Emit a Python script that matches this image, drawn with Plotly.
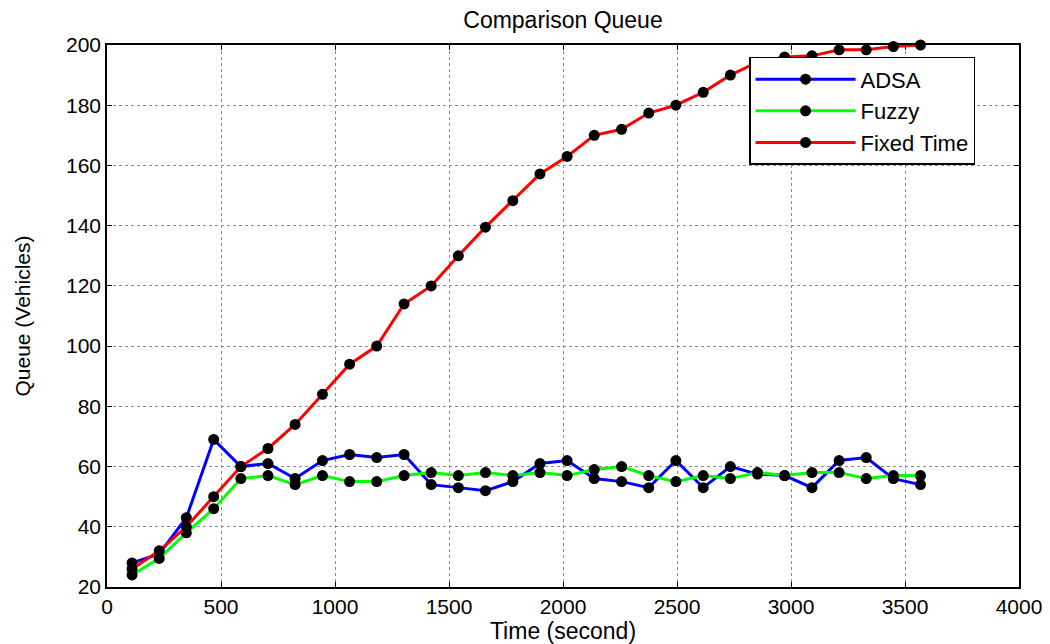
import plotly.graph_objects as go

time_s = [110, 229, 348, 468, 587, 706, 825, 945, 1064, 1183,
          1303, 1422, 1541, 1660, 1780, 1899, 2018, 2137, 2257, 2376,
          2495, 2615, 2734, 2853, 2972, 3092, 3211, 3330, 3449, 3568]

adsa = [28, 31, 43, 69, 60, 61, 56, 62, 64, 63,
        64, 54, 53, 52, 55, 61, 62, 56, 55, 53,
        62, 53, 60, 57.5, 57, 53, 62, 63, 56, 54]

fuzzy = [24, 29.5, 38, 46, 56, 57, 54, 57, 55, 55,
         57, 58, 57, 58, 57, 58, 57, 59, 60, 57,
         55, 57, 56, 58, 57, 58, 58, 56, 57, 57]

fixed_time = [26, 32, 40, 50, 60, 66, 74, 84, 94, 100,
              114, 120, 130, 139.5, 148.3, 157.2, 163, 170, 172, 177.4,
              180, 184.3, 190, 194.3, 196, 196.4, 198.4, 198.4, 199.5, 200]

series = [("ADSA", adsa, "#0000FF"),
          ("Fuzzy", fuzzy, "#00FF00"),
          ("Fixed Time", fixed_time, "#FF0000")]

x_ticks = [0, 500, 1000, 1500, 2000, 2500, 3000, 3500, 4000]
y_ticks = [20, 40, 60, 80, 100, 120, 140, 160, 180, 200]

FONT = "Liberation Sans, Arial, sans-serif"

fig = go.Figure()
for name, vals, color in series:
    fig.add_trace(go.Scatter(
        x=time_s, y=vals, name=name, mode="lines+markers",
        line=dict(color=color, width=3),
        marker=dict(color="black", size=11, symbol="circle"),
        cliponaxis=False,
    ))

axis_common = dict(
    showline=True, linecolor="black", linewidth=1.5, mirror="allticks",
    ticks="inside", ticklen=5, tickcolor="black", tickwidth=1,
    showgrid=True, gridcolor="#8c8c8c", griddash="dot", gridwidth=1,
    zeroline=False, tickfont=dict(family=FONT, size=21, color="black"),
)

fig.update_xaxes(range=[0, 4000], tickvals=x_ticks,
                 title=dict(text="Time (second)", standoff=7,
                            font=dict(family=FONT, size=23, color="black")),
                 **axis_common)
fig.update_yaxes(range=[20, 200], tickvals=y_ticks,
                 title=dict(text="Queue (Vehicles)", standoff=30,
                            font=dict(family="Liberation Sans Narrow, Arial Narrow, " + FONT,
                                      size=21, color="black")),
                 **axis_common)

fig.update_layout(
    width=1042, height=636,
    margin=dict(l=99, r=31, t=37, b=57, autoexpand=False),
    paper_bgcolor="white", plot_bgcolor="white",
    title=dict(text="Comparison Queue", x=0.5, xanchor="center", xref="paper",
               y=0.981, yanchor="middle",
               font=dict(family=FONT, size=23, color="black")),
    legend=dict(x=0.704, y=0.978, xanchor="left", yanchor="top",
                bgcolor="white", bordercolor="black", borderwidth=1.5,
                font=dict(family=FONT, size=22, color="black"),
                itemwidth=100, tracegroupgap=0),
    showlegend=True,
)

fig.write_html("out.html")
